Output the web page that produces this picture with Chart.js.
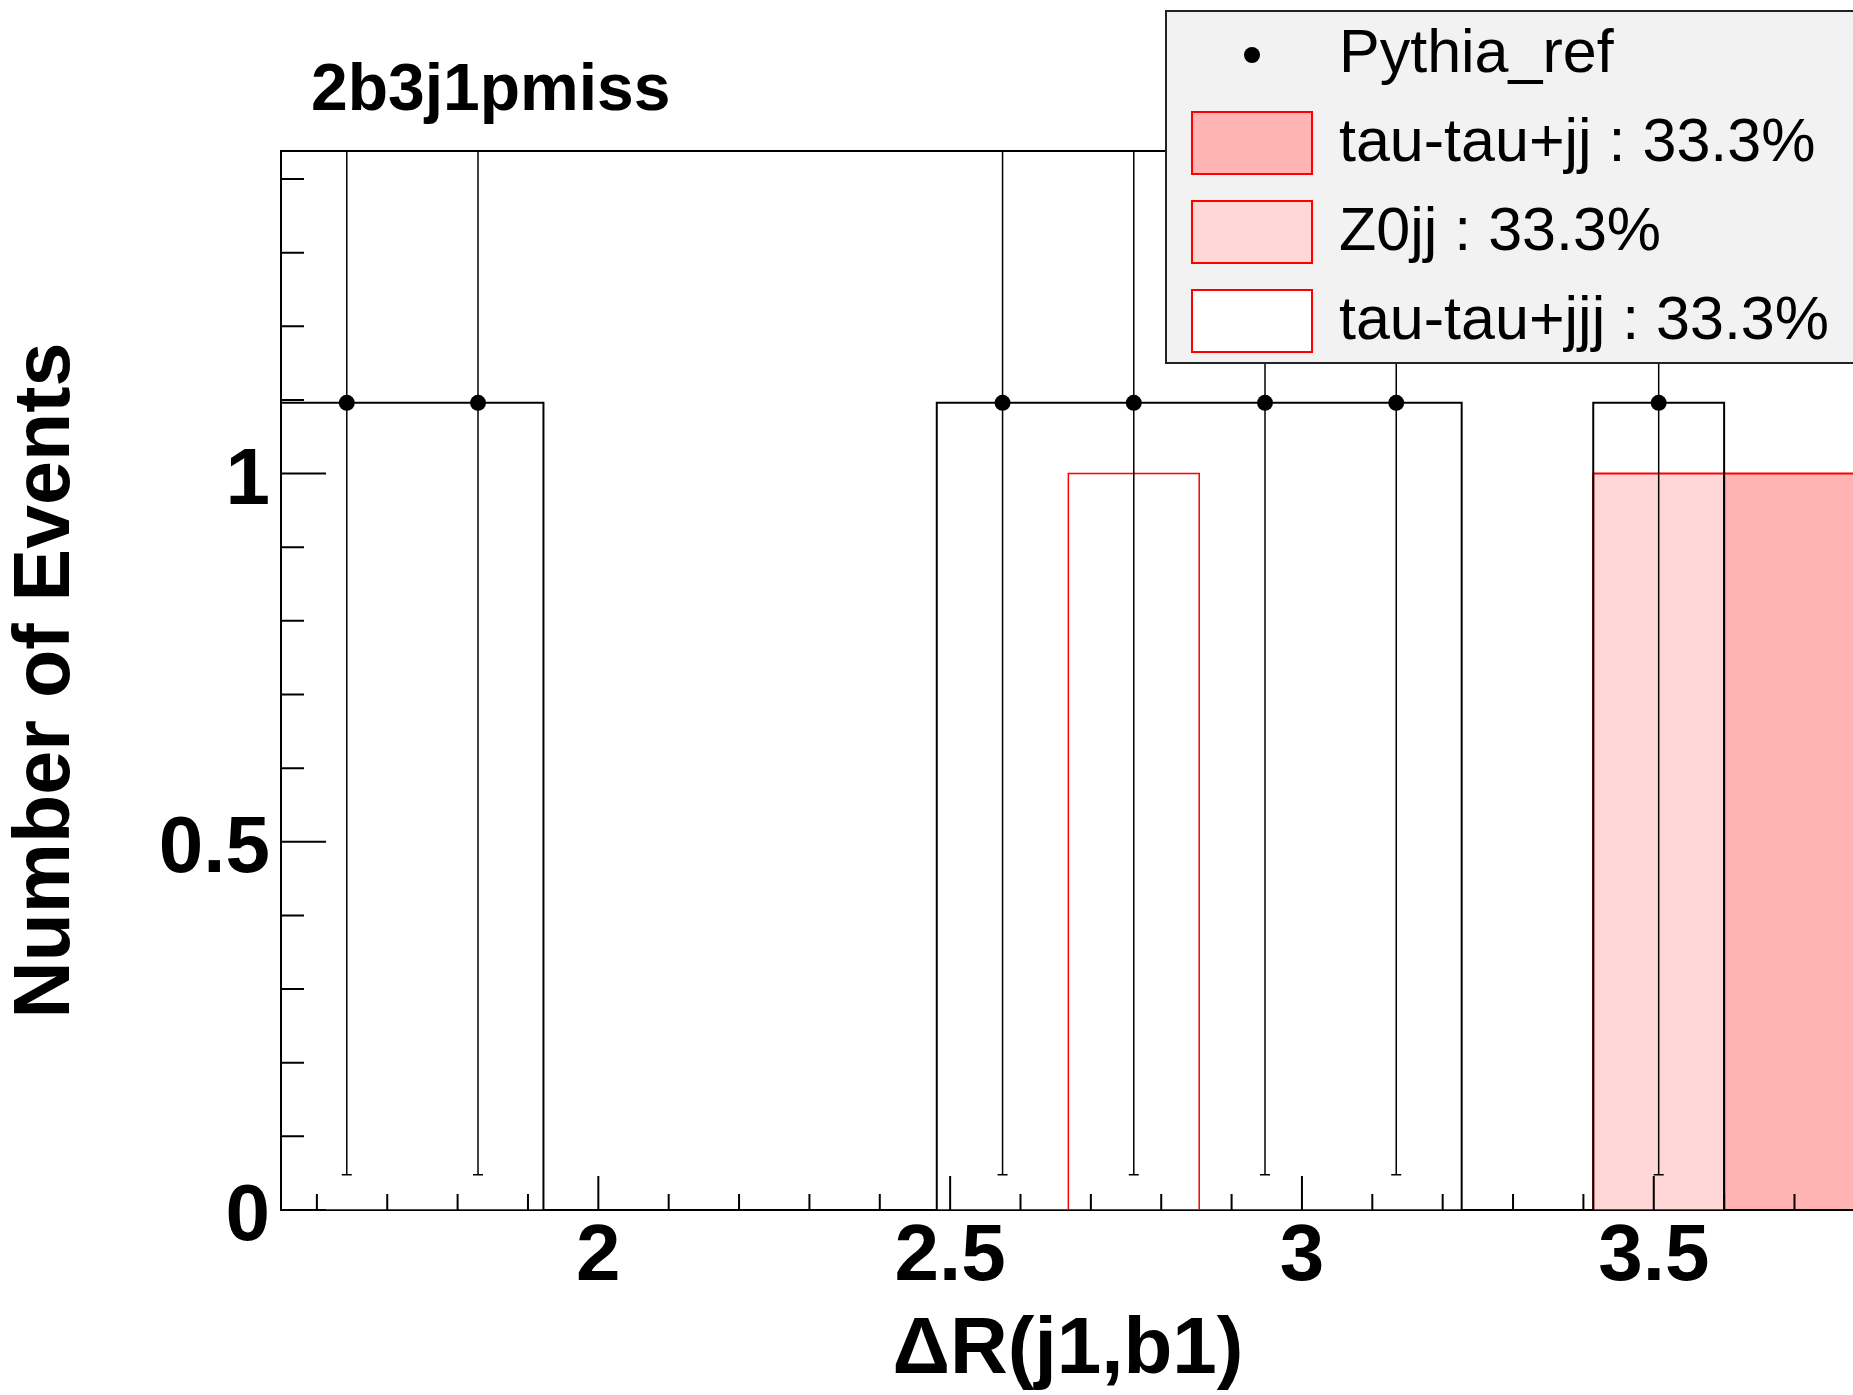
<!DOCTYPE html>
<html>
<head>
<meta charset="utf-8">
<title>2b3j1pmiss</title>
<script src="https://cdn.jsdelivr.net/npm/chart.js@4.4.0/dist/chart.umd.min.js"></script>
<style>
  html, body { margin: 0; padding: 0; overflow: hidden; background: #fff; }
  canvas { display: block; }
</style>
</head>
<body>
<canvas id="chart" width="1853" height="1395"></canvas>
<script>
// bin edges of the dR(j1,b1) histogram, 12 bins
const binEdges = [1.549, 1.736, 1.922, 2.108, 2.295, 2.481, 2.668, 2.854, 3.041, 3.227, 3.414, 3.600, 3.786];

// Pythia reference, drawn as points with errors + outline
const pythiaValues = [1.096, 1.096, 0, 0, 0, 1.096, 1.096, 1.096, 1.096, 0, 1.096, 0];
const pythiaErrors = [1.048, 1.048, 0, 0, 0, 1.048, 1.048, 1.048, 1.048, 0, 1.048, 0];

// stacked samples
const tautaujjValues  = [0, 0, 0, 0, 0, 0, 0, 0, 0, 0, 0, 1];
const z0jjValues      = [0, 0, 0, 0, 0, 0, 0, 0, 0, 0, 1, 0];
const tautaujjjValues = [0, 0, 0, 0, 0, 0, 1, 0, 0, 0, 0, 0];

const xTickLabels = [2, 2.5, 3, 3.5];
const yTickLabels = [0, 0.5, 1];
const yMax = 1.438;

const FONT = "'Liberation Sans', Arial, Helvetica, sans-serif";

function sum(arr) {
    return arr.reduce((a, b) => a + b, 0);
}

// turn bin contents into the corner points of a step outline
function histSteps(values) {
    const pts = [{ x: binEdges[0], y: 0 }];
    values.forEach((v, i) => {
        pts.push({ x: binEdges[i], y: v });
        pts.push({ x: binEdges[i + 1], y: v });
    });
    pts.push({ x: binEdges[binEdges.length - 1], y: 0 });
    return pts;
}

const pythiaPoints = pythiaValues
    .map((v, i) => ({ x: (binEdges[i] + binEdges[i + 1]) / 2, y: v, err: pythiaErrors[i] }))
    .filter(p => p.y > 0);

const stackTotal = sum(tautaujjValues) + sum(z0jjValues) + sum(tautaujjjValues);
function pct(values) {
    return (100 * sum(values) / stackTotal).toFixed(1) + '%';
}

// the original picture is cut on the right: let the frame run just past the canvas edge
const cropFrame = {
    id: 'cropFrame',
    afterLayout(chart) {
        const xs = chart.scales.x;
        chart.chartArea.right = chart.width + 2;
        chart.chartArea.width = chart.chartArea.right - chart.chartArea.left;
        xs.right = chart.chartArea.right;
        xs.width = xs.right - xs.left;
        xs.configure();
    }
};

// error bars for the Pythia points, drawn just before the markers
const errorBars = {
    id: 'errorBars',
    beforeDatasetDraw(chart, args) {
        if (args.index !== 0) return;
        const ctx = chart.ctx, a = chart.chartArea;
        const xs = chart.scales.x, ys = chart.scales.y;
        ctx.save();
        ctx.beginPath();
        ctx.rect(a.left, a.top, a.right - a.left, a.bottom - a.top);
        ctx.clip();
        ctx.strokeStyle = '#000';
        ctx.lineWidth = 1.5;
        pythiaPoints.forEach(p => {
            const px = xs.getPixelForValue(p.x);
            const lo = ys.getPixelForValue(p.y - p.err);
            const hi = ys.getPixelForValue(p.y + p.err);
            ctx.beginPath();
            ctx.moveTo(px, lo);
            ctx.lineTo(px, hi);
            ctx.moveTo(px - 5, lo);
            ctx.lineTo(px + 5, lo);
            ctx.moveTo(px - 5, hi);
            ctx.lineTo(px + 5, hi);
            ctx.stroke();
        });
        ctx.restore();
    }
};

// ROOT style frame, inner tick marks, title and legend box
const rootStyle = {
    id: 'rootStyle',
    beforeDatasetsDraw(chart) {
        const ctx = chart.ctx, a = chart.chartArea;
        ctx.save();
        ctx.strokeStyle = '#000';
        ctx.lineWidth = 2;
        ctx.strokeRect(a.left, a.top, a.right - a.left, a.bottom - a.top);
        ctx.restore();
    },
    afterDatasetsDraw(chart) {
        const ctx = chart.ctx, a = chart.chartArea;
        const xs = chart.scales.x, ys = chart.scales.y;
        ctx.save();
        ctx.strokeStyle = '#000';
        ctx.lineWidth = 2;
        ctx.beginPath();
        for (let k = Math.ceil(xs.min * 10); k <= Math.floor(xs.max * 10); k++) {
            const px = xs.getPixelForValue(k / 10);
            const len = k % 5 === 0 ? 34 : 16;
            ctx.moveTo(px, a.bottom);
            ctx.lineTo(px, a.bottom - len);
        }
        for (let k = 0; k <= Math.floor(ys.max * 10); k++) {
            const py = ys.getPixelForValue(k / 10);
            const len = k % 5 === 0 ? 45 : 23;
            ctx.moveTo(a.left, py);
            ctx.lineTo(a.left + len, py);
        }
        ctx.stroke();
        ctx.restore();
    },
    afterDraw(chart) {
        const ctx = chart.ctx;
        ctx.save();

        // pad title
        ctx.fillStyle = '#000';
        ctx.font = 'bold 66px ' + FONT;
        ctx.textBaseline = 'alphabetic';
        ctx.textAlign = 'left';
        ctx.fillText('2b3j1pmiss', 311, 110);

        // legend
        ctx.fillStyle = '#f2f2f2';
        ctx.fillRect(1166, 11, 720, 352);
        ctx.strokeStyle = '#222';
        ctx.lineWidth = 2;
        ctx.strokeRect(1166, 11, 720, 352);

        const ds = chart.data.datasets;
        const rows = [
            { text: ds[0].label, marker: 'dot', base: 72 },
            { text: ds[2].label + ' : ' + pct(tautaujjValues), fill: ds[2].backgroundColor, base: 161 },
            { text: ds[3].label + ' : ' + pct(z0jjValues), fill: ds[3].backgroundColor, base: 250 },
            { text: ds[4].label + ' : ' + pct(tautaujjjValues), fill: '#ffffff', base: 339 }
        ];
        rows.forEach(r => {
            if (r.marker === 'dot') {
                ctx.fillStyle = '#000';
                ctx.beginPath();
                ctx.arc(1252, 55, 8, 0, Math.PI * 2);
                ctx.fill();
            } else {
                const top = r.base - 49;
                ctx.fillStyle = r.fill;
                ctx.fillRect(1192, top, 120, 62);
                ctx.strokeStyle = '#ff0000';
                ctx.lineWidth = 2;
                ctx.strokeRect(1192, top, 120, 62);
            }
            ctx.fillStyle = '#000';
            ctx.font = '61px ' + FONT;
            ctx.fillText(r.text, 1339, r.base);
        });
        ctx.restore();
    }
};

const ctx = document.getElementById('chart').getContext('2d');
new Chart(ctx, {
    type: 'line',
    data: {
        datasets: [
            {
                label: 'Pythia_ref',
                type: 'scatter',
                data: pythiaPoints,
                pointRadius: 8,
                pointBackgroundColor: '#000',
                pointBorderWidth: 0,
                showLine: false,
                order: 0
            },
            {
                label: 'Pythia_ref outline',
                data: histSteps(pythiaValues),
                borderColor: '#000',
                borderWidth: 2,
                pointRadius: 0,
                fill: false,
                order: 1
            },
            {
                label: 'tau-tau+jj',
                data: histSteps(tautaujjValues),
                borderColor: '#ff0000',
                backgroundColor: '#ffb3b3',
                borderWidth: 2,
                pointRadius: 0,
                fill: 'origin',
                order: 2
            },
            {
                label: 'Z0jj',
                data: histSteps(z0jjValues),
                borderColor: '#ff0000',
                backgroundColor: '#ffd7d7',
                borderWidth: 2,
                pointRadius: 0,
                fill: 'origin',
                order: 3
            },
            {
                label: 'tau-tau+jjj',
                data: histSteps(tautaujjjValues),
                borderColor: '#ff0000',
                borderWidth: 1.5,
                pointRadius: 0,
                fill: false,
                order: 4
            }
        ]
    },
    options: {
        responsive: false,
        animation: false,
        devicePixelRatio: 1,
        layout: { padding: { left: 0, top: 151, right: 0, bottom: 0 } },
        plugins: {
            legend: { display: false },
            tooltip: { enabled: false }
        },
        elements: { line: { tension: 0 } },
        scales: {
            x: {
                type: 'linear',
                min: binEdges[0],
                max: binEdges[binEdges.length - 1],
                grid: { display: false, drawTicks: false },
                border: { display: false },
                afterBuildTicks: s => { s.ticks = xTickLabels.map(v => ({ value: v })); },
                afterFit: s => { s.height = 185; },
                ticks: {
                    color: '#000',
                    padding: 0,
                    maxRotation: 0,
                    font: { family: FONT, size: 80, weight: 'bold', lineHeight: 1.2 },
                    callback: v => String(v)
                },
                title: {
                    display: true,
                    text: 'ΔR(j1,b1)',
                    color: '#000',
                    padding: 0,
                    font: { family: FONT, size: 80, weight: 'bold', lineHeight: 1.1 }
                }
            },
            y: {
                type: 'linear',
                min: 0,
                max: yMax,
                grid: { display: false, drawTicks: false },
                border: { display: false },
                afterBuildTicks: s => { s.ticks = yTickLabels.map(v => ({ value: v })); },
                afterFit: s => { s.width = 281; },
                ticks: {
                    color: '#000',
                    padding: 11,
                    labelOffset: 8,
                    font: { family: FONT, size: 80, weight: 'bold', lineHeight: 1.2 },
                    callback: v => String(v)
                },
                title: {
                    display: true,
                    text: 'Number of Events',
                    color: '#000',
                    padding: 0,
                    font: { family: FONT, size: 79, weight: 'bold', lineHeight: 1.2 }
                }
            }
        }
    },
    plugins: [cropFrame, errorBars, rootStyle]
});
</script>
</body>
</html>
